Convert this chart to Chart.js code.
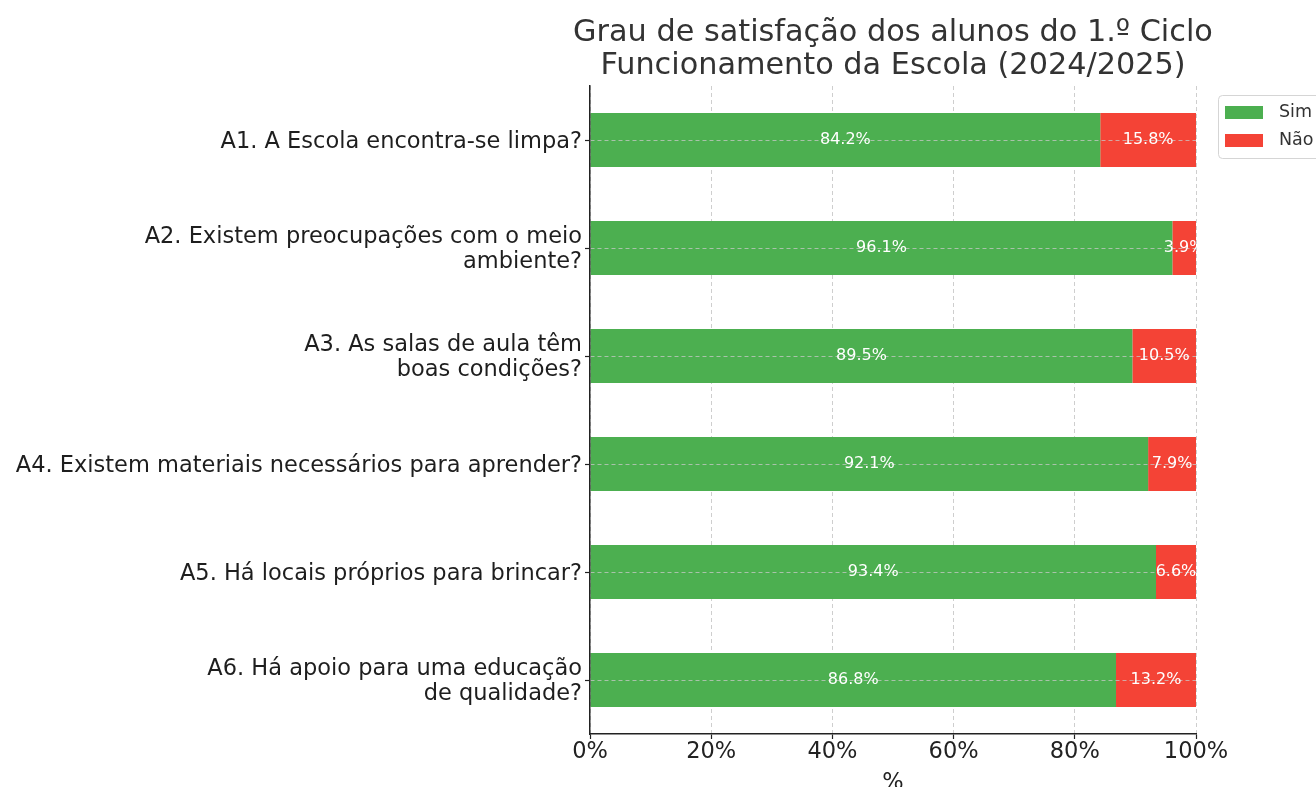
<!DOCTYPE html>
<html>
<head>
<meta charset="utf-8">
<script src="https://cdn.jsdelivr.net/npm/chart.js@4.4.1/dist/chart.umd.min.js"></script>
<style>
  html, body { margin: 0; padding: 0; background: #fff; overflow: hidden; }
  canvas { display: block; }
</style>
</head>
<body>
<canvas id="graph" width="1316" height="787"></canvas>
<script>
const titleLines = ['Grau de satisfação dos alunos do 1.º Ciclo', 'Funcionamento da Escola (2024/2025)'];
const questions = [
  "A1. A Escola encontra-se limpa?",
  ["A2. Existem preocupações com o meio", "ambiente?"],
  ["A3. As salas de aula têm", "boas condições?"],
  "A4. Existem materiais necessários para aprender?",
  "A5. Há locais próprios para brincar?",
  ["A6. Há apoio para uma educação", "de qualidade?"]
];
const sim = [84.2, 96.1, 89.5, 92.1, 93.4, 86.8];
const nao = [15.8, 3.9, 10.5, 7.9, 6.6, 13.2];
const xTicks = [0, 20, 40, 60, 80, 100];

const font = "'DejaVu Sans', sans-serif";
const gridColor = 'rgba(185,185,185,0.7)';

// title centred over the plot area (Chart.js title would squeeze it)
const plotTitle = {
  id: 'plotTitle',
  afterDraw(chart) {
    const ctx = chart.ctx;
    const a = chart.chartArea;
    const cx = (a.left + a.right) / 2;
    ctx.save();
    ctx.font = '30.3px ' + font;
    ctx.fillStyle = '#333';
    ctx.textAlign = 'center';
    ctx.textBaseline = 'alphabetic';
    titleLines.forEach((t, i) => ctx.fillText(t, cx, a.top - 45 + i * 32.5));
    ctx.restore();
  }
};

// white labels in the middle of every segment
const barLabels = {
  id: 'barLabels',
  afterDraw(chart) {
    const ctx = chart.ctx;
    ctx.save();
    ctx.font = '16px ' + font;
    ctx.fillStyle = '#fff';
    ctx.textAlign = 'center';
    ctx.textBaseline = 'middle';
    chart.data.datasets.forEach((ds, i) => {
      chart.getDatasetMeta(i).data.forEach((bar, j) => {
        ctx.fillText(ds.data[j].toFixed(1) + '%', (bar.x + bar.base) / 2, bar.y);
      });
    });
    ctx.restore();
  }
};

// matplotlib-like legend box just right of the plot
const sideLegend = {
  id: 'sideLegend',
  afterDraw(chart) {
    const ctx = chart.ctx;
    const a = chart.chartArea;
    const x = a.right + 22, y = a.top + 9;
    ctx.save();
    ctx.fillStyle = 'rgba(255,255,255,0.8)';
    ctx.strokeStyle = '#d5d5d5';
    ctx.lineWidth = 1;
    ctx.beginPath();
    ctx.roundRect(x + 0.5, y + 0.5, 130, 63, 4);
    ctx.fill();
    ctx.stroke();
    ctx.font = '17.5px ' + font;
    ctx.textBaseline = 'middle';
    chart.data.datasets.forEach((ds, i) => {
      const rowY = y + 17 + i * 28;
      ctx.fillStyle = ds.backgroundColor;
      ctx.fillRect(x + 7, rowY - 6, 38, 13);
      ctx.fillStyle = '#333';
      ctx.fillText(ds.label, x + 61, rowY);
    });
    ctx.restore();
  }
};

const whiteBg = {
  id: 'whiteBg',
  beforeDraw(chart) {
    const ctx = chart.ctx;
    ctx.save();
    ctx.fillStyle = '#fff';
    ctx.fillRect(0, 0, chart.width, chart.height);
    ctx.restore();
  }
};

new Chart(document.getElementById('graph').getContext('2d'), {
  type: 'bar',
  data: {
    labels: questions,
    datasets: [
      { label: 'Sim', data: sim, backgroundColor: '#4CAF50', barPercentage: 0.5, categoryPercentage: 1 },
      { label: 'Não', data: nao, backgroundColor: '#F44336', barPercentage: 0.5, categoryPercentage: 1 }
    ]
  },
  options: {
    indexAxis: 'y',
    responsive: false,
    animation: false,
    devicePixelRatio: 1,
    layout: { padding: { left: 0, right: 120, top: 86, bottom: -10 } },
    plugins: {
      legend: { display: false },
      tooltip: { enabled: false },
      title: { display: false }
    },
    scales: {
      x: {
        stacked: true,
        min: 0,
        max: 100,
        afterBuildTicks(scale) { scale.ticks = xTicks.map(v => ({ value: v })); },
        afterFit(scale) { scale.height = 63; },
        ticks: {
          callback: v => v + '%',
          color: '#222',
          padding: 0,
          maxRotation: 0,
          font: { family: font, size: 22.5 }
        },
        grid: {
          color: gridColor,
          tickColor: '#222',
          tickBorderDash: [],
          tickLength: 5,
          tickWidth: 1.2
        },
        border: { display: true, color: '#222', width: 1.5, dash: [4, 3] },
        title: {
          display: true,
          text: '%',
          color: '#222',
          font: { family: font, size: 22.5 },
          padding: { top: 0, bottom: 0 }
        }
      },
      y: {
        stacked: true,
        z: 1,
        afterFit(scale) { scale.width = 590; },
        ticks: {
          color: '#1e1e1e',
          padding: 3,
          labelOffset: 2,
          font: { family: font, size: 22.5, lineHeight: 1.1 }
        },
        grid: {
          z: 1,
          offset: false,
          color: 'rgba(200,200,200,0.75)',
          tickColor: '#222',
          tickBorderDash: [],
          tickLength: 5,
          tickWidth: 1.2
        },
        border: { display: true, z: 1, color: '#222', width: 1.5, dash: [4, 3] }
      }
    }
  },
  plugins: [whiteBg, barLabels, sideLegend, plotTitle]
});
</script>
</body>
</html>
